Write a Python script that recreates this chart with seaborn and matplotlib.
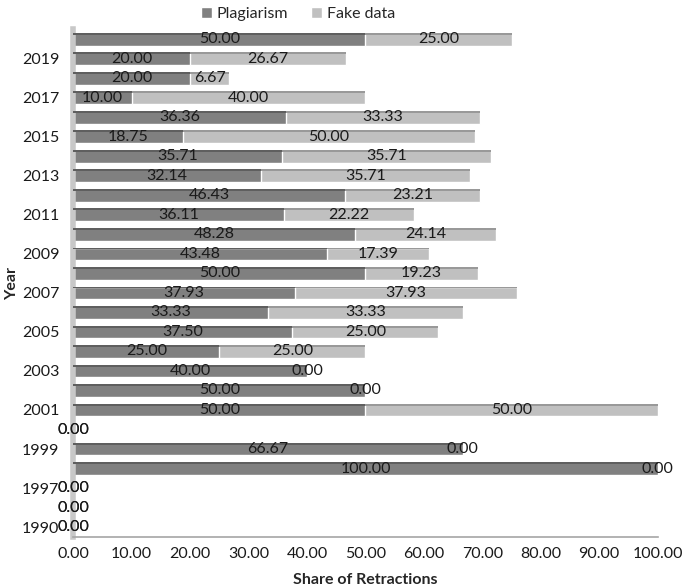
import numpy as np
import pandas as pd
import matplotlib
matplotlib.use('Agg')
import matplotlib.pyplot as plt
import seaborn as sns
from matplotlib.patches import Rectangle, Patch

# ============================================================
# Data (top row first)
# ============================================================
years = ['2020', '2019', '2018', '2017', '2016', '2015', '2014', '2013', '2012',
         '2011', '2010', '2009', '2008', '2007', '2006', '2005', '2004', '2003',
         '2002', '2001', '2000', '1999', '1998', '1997', '1996', '1990']
plagiarism = [50.00, 20.00, 20.00, 10.00, 36.36, 18.75, 35.71, 32.14, 46.43,
              36.11, 48.28, 43.48, 50.00, 37.93, 33.33, 37.50, 25.00, 40.00,
              50.00, 50.00, 0.00, 66.67, 100.00, 0.00, 0.00, 0.00]
fake_data = [25.00, 26.67, 6.67, 40.00, 33.33, 50.00, 35.71, 35.71, 23.21,
             22.22, 24.14, 17.39, 19.23, 37.93, 33.33, 25.00, 25.00, 0.00,
             0.00, 50.00, 0.00, 0.00, 0.00, 0.00, 0.00, 0.00]
shown_years = ['2019', '2017', '2015', '2013', '2011', '2009', '2007', '2005',
               '2003', '2001', '1999', '1997', '1990']

df = pd.DataFrame({'Year': years, 'Plagiarism': plagiarism, 'Fake data': fake_data})
df['Total'] = df['Plagiarism'] + df['Fake data']

C_PLAG = '#808080'
C_FAKE = '#c0c0c0'
C_PLAG_TOP = '#5f5f5f'
C_FAKE_TOP = '#999999'
FS = 11.5

sns.set_style('white')
plt.rcParams['font.family'] = ['Lato', 'DejaVu Sans']

fig = plt.figure(figsize=(6.85, 5.88), dpi=100)
ax = fig.add_axes([0.107, 0.087, 0.853, 0.863])

# stacked bars: total in light grey, plagiarism over it
sns.barplot(data=df, y='Year', x='Total', order=years, orient='h',
            color=C_FAKE, saturation=1, width=0.65, ax=ax)
n_fake = len(ax.patches)
sns.barplot(data=df, y='Year', x='Plagiarism', order=years, orient='h',
            color=C_PLAG, saturation=1, width=0.65, ax=ax)

# darker top face for a flat imitation of the 3D look
for i, p in enumerate(list(ax.patches)):
    if p.get_width() <= 0:
        continue
    top = C_FAKE_TOP if i < n_fake else C_PLAG_TOP
    ax.add_patch(Rectangle((p.get_x(), p.get_y()), p.get_width(), 0.1,
                           facecolor=top, edgecolor='none', zorder=3))

# data labels at segment centres
for i, (pl, fk) in enumerate(zip(plagiarism, fake_data)):
    ax.text(pl / 2, i, f'{pl:.2f}', ha='center', va='center',
            fontsize=FS, color='#1a1a1a', zorder=5)
    ax.text(pl + fk / 2, i, f'{fk:.2f}', ha='center', va='center',
            fontsize=FS, color='#1a1a1a', zorder=5)

ax.set_xlim(0, 100)
ax.set_ylim(len(years) - 0.5, -0.5)
ax.set_xticks(np.arange(0, 101, 10))
ax.set_xticklabels([f'{v:.2f}' for v in np.arange(0, 101, 10)])
ax.set_yticks(range(len(years)))
ax.set_yticklabels([y if y in shown_years else '' for y in years])
ax.tick_params(axis='both', length=0, labelsize=FS, colors='#1a1a1a')
ax.tick_params(axis='y', pad=10)
ax.tick_params(axis='x', pad=7)

for s in ['top', 'right']:
    ax.spines[s].set_visible(False)
ax.spines['left'].set_color('#c8c8c8')
ax.spines['left'].set_linewidth(4)
ax.spines['bottom'].set_color('#a6a6a6')
ax.spines['bottom'].set_linewidth(1.2)

ax.set_xlabel('Share of Retractions', fontsize=FS, fontweight='bold', labelpad=9)
ax.set_ylabel('Year', fontsize=FS, fontweight='bold', labelpad=2)

handles = [Patch(facecolor=C_PLAG, label='Plagiarism'),
           Patch(facecolor=C_FAKE, label='Fake data')]
fig.legend(handles=handles, loc='upper center', bbox_to_anchor=(0.435, 1.012),
           ncol=2, frameon=False, fontsize=FS, handlelength=0.7,
           handleheight=0.7, handletextpad=0.3, columnspacing=1.4)

plt.savefig('out.png', dpi=100)
plt.close()
